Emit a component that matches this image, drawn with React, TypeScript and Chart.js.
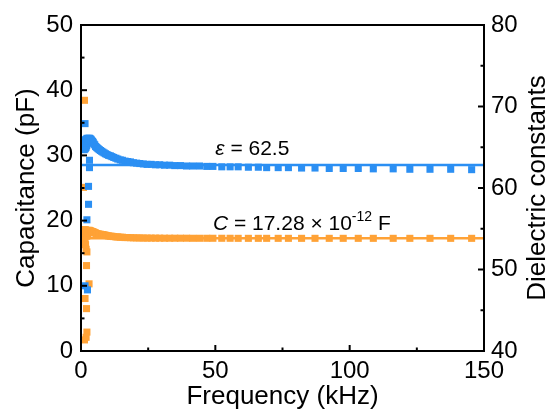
import { useEffect, useRef } from 'react';
import { Chart, registerables } from 'chart.js';

Chart.register(...registerables);

// ---- Data ----
const freqKHz = [
  1.0, 1.06, 1.12, 1.19, 1.26, 1.34, 1.42, 1.5, 1.59, 1.69,
  1.79, 1.9, 2.01, 2.13, 2.26, 2.4, 2.54, 2.69, 2.85, 3.02,
  3.2, 3.4, 3.6, 3.82, 4.05, 4.29, 4.55, 4.82, 5.11, 5.42,
  5.74, 6.09, 6.45, 6.84, 7.25, 7.69, 8.15, 8.63, 9.15, 9.7,
  10.3, 10.9, 11.5, 12.2, 13.0, 13.7, 14.6, 15.4, 16.4, 17.4,
  18.4, 19.5, 20.7, 21.9, 23.2, 24.6, 26.1, 27.7, 29.3, 31.1,
  33.0, 34.9, 37.0, 39.3, 41.6, 44.1, 46.8, 49.1, 52.4, 55.5,
  58.5, 62.3, 66.0, 69.1, 73.4, 77.2, 82.1, 87.1, 92.4, 97.6,
  103.2, 108.8, 116.2, 122.4, 129.9, 137.6, 145.4,
];

const dielectricValues = [
  65.8, 64.8, 65.9, 64.7, 65.6, 64.9, 65.8, 64.8, 65.7, 64.9,
  65.9, 65.0, 66.0, 65.2, 66.1, 65.5, 66.0, 65.8, 66.1, 66.0,
  66.1, 66.0, 66.0, 65.9, 65.8, 65.7, 65.6, 65.4, 65.3, 65.1,
  65.0, 64.9, 64.8, 64.7, 64.6, 64.5, 64.4, 64.3, 64.2, 64.1,
  64.0, 63.95, 63.85, 63.75, 63.65, 63.55, 63.45, 63.4, 63.3, 63.25,
  63.2, 63.1, 63.05, 63.0, 62.95, 62.9, 62.9, 62.85, 62.85, 62.8,
  62.8, 62.75, 62.75, 62.7, 62.7, 62.7, 62.65, 62.65, 62.6, 62.6,
  62.6, 62.55, 62.55, 62.5, 62.5, 62.5, 62.45, 62.45, 62.4, 62.4,
  62.4, 62.35, 62.35, 62.3, 62.3, 62.3, 62.25,
];

const capacitanceValues = [
  18.5, 17.5, 18.6, 17.6, 18.4, 17.3, 18.5, 17.0, 18.6, 16.3,
  18.5, 15.6, 18.4, 17.6, 18.5, 17.9, 18.4, 18.1, 18.5, 18.4,
  18.5, 18.4, 18.4, 18.35, 18.3, 18.3, 18.25, 18.2, 18.15, 18.1,
  18.0, 17.95, 17.95, 17.9, 17.9, 17.85, 17.85, 17.8, 17.75, 17.7,
  17.65, 17.6, 17.6, 17.55, 17.5, 17.5, 17.45, 17.45, 17.4, 17.4,
  17.38, 17.36, 17.35, 17.34, 17.33, 17.32, 17.32, 17.31, 17.31, 17.3,
  17.3, 17.3, 17.3, 17.3, 17.29, 17.29, 17.29, 17.29, 17.29, 17.29,
  17.28, 17.28, 17.28, 17.28, 17.28, 17.28, 17.28, 17.28, 17.28, 17.28,
  17.28, 17.28, 17.28, 17.28, 17.28, 17.28, 17.28,
];

// scattered low-frequency points
const dielectricNoiseFreq = [1.5, 3.16, 3.16, 2.8, 2.8, 2.2, 1.5, 2.4];
const dielectricNoiseValues = [67.9, 63.4, 62.5, 60.2, 58.0, 56.1, 48.0, 47.5];
const capacitanceNoiseFreq = [1.3, 0.93, 2.2, 2.05, 3.0, 1.5, 2.05, 2.2, 1.9, 1.3];
const capacitanceNoiseValues = [38.45, 25.1, 15.2, 13.1, 10.3, 8.05, 6.5, 2.9, 2.1, 1.7];

// fitted constants
const dielectricFit = 62.82;
const capacitanceFit = 17.28;
const fitRange = [0, 150];

// axes
const xMajorTicks = [0, 50, 100, 150];
const xMinorTicks = [25, 75, 125];
const yMajorTicks = [0, 10, 20, 30, 40, 50];
const yMinorTicks = [5, 15, 25, 35, 45];
const y1MajorTicks = [40, 50, 60, 70, 80];
const y1MinorTicks = [45, 55, 65, 75];
const rightTitle = 'Dielectric constants';

const BLUE = '#2b8ff3';
const ORANGE = '#ffa236';
const FONT = '"Liberation Sans", Arial, Helvetica, sans-serif';

const framePlugin = {
  id: 'frameTicks',
  afterDatasetsDraw(chart: any) {
    const { ctx, chartArea, scales } = chart;
    const { left, right, top, bottom } = chartArea;
    ctx.save();
    ctx.strokeStyle = '#000';
    ctx.lineWidth = 2;
    ctx.lineCap = 'butt';
    const seg = (x1: number, y1: number, x2: number, y2: number) => {
      ctx.beginPath();
      ctx.moveTo(x1, y1);
      ctx.lineTo(x2, y2);
      ctx.stroke();
    };
    const MAJ = 6;
    const MIN = 3.5;
    xMajorTicks.forEach((v) => { const p = scales.x.getPixelForValue(v); seg(p, bottom, p, bottom - MAJ); });
    xMinorTicks.forEach((v) => { const p = scales.x.getPixelForValue(v); seg(p, bottom, p, bottom - MIN); });
    yMajorTicks.forEach((v) => { const p = scales.y.getPixelForValue(v); seg(left, p, left + MAJ, p); });
    yMinorTicks.forEach((v) => { const p = scales.y.getPixelForValue(v); seg(left, p, left + MIN, p); });
    y1MajorTicks.forEach((v) => { const p = scales.y1.getPixelForValue(v); seg(right, p, right - MAJ, p); });
    y1MinorTicks.forEach((v) => { const p = scales.y1.getPixelForValue(v); seg(right, p, right - MIN, p); });
    ctx.strokeRect(left, top, right - left, bottom - top);

    // right axis title, reading bottom-to-top
    const s = scales.y1;
    ctx.fillStyle = '#000';
    ctx.font = `26px ${FONT}`;
    ctx.textAlign = 'center';
    ctx.textBaseline = 'middle';
    ctx.translate(s.right - 15.6, (top + bottom) / 2);
    ctx.rotate(-Math.PI / 2);
    ctx.fillText(rightTitle, 0, 0);
    ctx.restore();
  },
};

const annotationPlugin = {
  id: 'annotations',
  afterDatasetsDraw(chart: any) {
    const { ctx, scales } = chart;
    ctx.save();
    ctx.fillStyle = '#000';
    ctx.textBaseline = 'alphabetic';
    ctx.textAlign = 'left';
    // epsilon label
    let x = scales.x.getPixelForValue(50);
    let y = scales.y1.getPixelForValue(64.05);
    ctx.font = `italic 21px ${FONT}`;
    ctx.fillText('ε', x, y);
    x += ctx.measureText('ε').width;
    ctx.font = `21px ${FONT}`;
    ctx.fillText(' = 62.5', x, y);

    // capacitance label
    x = scales.x.getPixelForValue(49.1);
    y = scales.y.getPixelForValue(18.56);
    ctx.font = `italic 21px ${FONT}`;
    ctx.fillText('C', x, y);
    x += ctx.measureText('C').width;
    ctx.font = `21px ${FONT}`;
    const main = ' = 17.28 × 10';
    ctx.fillText(main, x, y);
    x += ctx.measureText(main).width;
    ctx.font = `14px ${FONT}`;
    ctx.fillText('-12', x, y - 9);
    x += ctx.measureText('-12').width;
    ctx.font = `21px ${FONT}`;
    ctx.fillText(' F', x, y);
    ctx.restore();
  },
};

export default function App() {
  const ref = useRef<HTMLCanvasElement>(null);

  useEffect(() => {
    const canvas = ref.current;
    if (!canvas) return;

    const toPts = (xs: number[], ys: number[]) => xs.map((v, i) => ({ x: v, y: ys[i] }));

    const chart = new Chart(canvas, {
      type: 'scatter',
      data: {
        datasets: [
          {
            label: 'Dielectric',
            data: [...toPts(freqKHz, dielectricValues), ...toPts(dielectricNoiseFreq, dielectricNoiseValues)],
            yAxisID: 'y1',
            backgroundColor: BLUE,
            borderWidth: 0,
            pointStyle: 'rect',
            pointRadius: 5,
            order: 1,
          } as any,
          {
            label: 'Dielectric fit',
            type: 'line',
            data: toPts(fitRange, [dielectricFit, dielectricFit]),
            yAxisID: 'y1',
            borderColor: BLUE,
            borderWidth: 2.5,
            pointRadius: 0,
            showLine: true,
            order: 0,
          } as any,
          {
            label: 'Capacitance',
            data: [...toPts(freqKHz, capacitanceValues), ...toPts(capacitanceNoiseFreq, capacitanceNoiseValues)],
            yAxisID: 'y',
            backgroundColor: ORANGE,
            borderWidth: 0,
            pointStyle: 'rect',
            pointRadius: 5,
            order: 3,
          } as any,
          {
            label: 'Capacitance fit',
            type: 'line',
            data: toPts(fitRange, [capacitanceFit, capacitanceFit]),
            yAxisID: 'y',
            borderColor: ORANGE,
            borderWidth: 2.5,
            pointRadius: 0,
            showLine: true,
            order: 2,
          } as any,
        ],
      },
      options: {
        animation: false,
        responsive: false,
        devicePixelRatio: 1,
        layout: { padding: { top: 25, left: 0, right: 0, bottom: 0 } },
        plugins: { legend: { display: false }, tooltip: { enabled: false } },
        scales: {
          x: {
            type: 'linear',
            min: 0,
            max: 150,
            grid: { display: false, drawTicks: false },
            border: { display: false },
            ticks: { stepSize: 50, color: '#000', font: { size: 24, family: FONT }, padding: 6, maxRotation: 0 },
            title: { display: true, text: 'Frequency (kHz)', color: '#000', font: { size: 26, family: FONT }, padding: { top: 0, bottom: 0 } },
            afterFit: (s: any) => { s.height = 61; },
          },
          y: {
            type: 'linear',
            position: 'left',
            min: 0,
            max: 50,
            grid: { display: false, drawTicks: false },
            border: { display: false },
            ticks: { stepSize: 10, color: '#000', font: { size: 24, family: FONT }, padding: 8 },
            title: { display: true, text: 'Capacitance (pF)', color: '#000', font: { size: 26, family: FONT }, padding: { top: 11, bottom: 0 } },
            afterFit: (s: any) => { s.width = 81; },
          },
          y1: {
            type: 'linear',
            position: 'right',
            min: 40,
            max: 80,
            grid: { display: false, drawTicks: false },
            border: { display: false },
            ticks: { stepSize: 10, color: '#000', font: { size: 24, family: FONT }, padding: 7 },
            title: { display: false },
            afterFit: (s: any) => { s.width = 69; },
          },
        },
      } as any,
      plugins: [framePlugin, annotationPlugin],
    });

    return () => chart.destroy();
  }, []);

  return (
    <div style={{ position: 'fixed', left: 0, top: 0, width: 553, height: 412, background: '#fff' }}>
      <canvas ref={ref} width={553} height={412} style={{ display: 'block', width: 553, height: 412 }} />
    </div>
  );
}
